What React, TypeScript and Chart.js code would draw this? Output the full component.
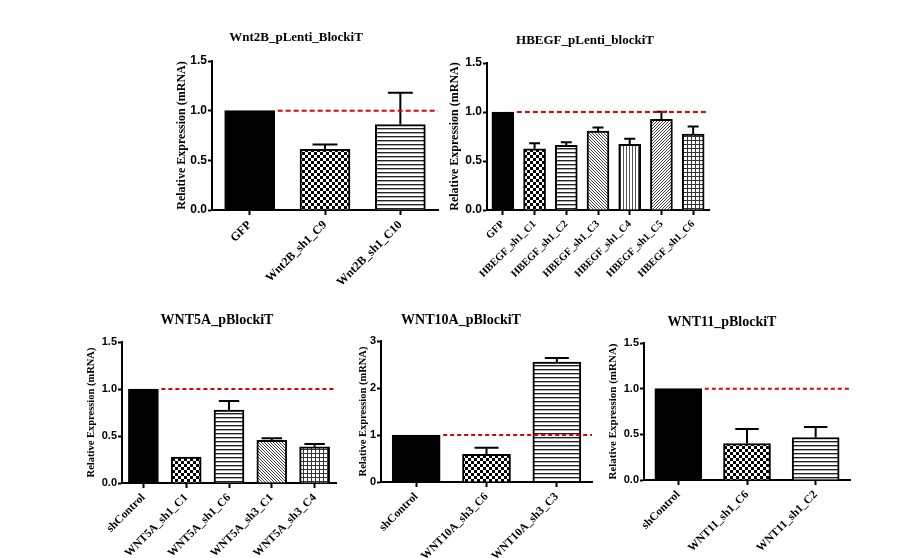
import React, { useEffect, useRef } from "react";
import { Chart, registerables } from "chart.js";

Chart.register(...registerables);

// ---------------- data ----------------
const yAxisTitle = "Relative Expression (mRNA)";
const referenceLevel = 1.0;

const wnt2bTitle = "Wnt2B_pLenti_BlockiT";
const wnt2bLabels = ["GFP", "Wnt2B_sh1_C9", "Wnt2B_sh1_C10"];
const wnt2bMeans = [1.0, 0.61, 0.86];
const wnt2bErrors = [0, 0.05, 0.32];
const wnt2bTicks = [0, 0.5, 1.0, 1.5];

const hbegfTitle = "HBEGF_pLenti_blockiT";
const hbegfLabels = ["GFP", "HBEGF_sh1_C1", "HBEGF_sh1_C2", "HBEGF_sh1_C3", "HBEGF_sh1_C4", "HBEGF_sh1_C5", "HBEGF_sh1_C6"];
const hbegfMeans = [1.0, 0.625, 0.66, 0.805, 0.67, 0.925, 0.775];
const hbegfErrors = [0, 0.055, 0.032, 0.037, 0.056, 0.078, 0.077];
const hbegfTicks = [0, 0.5, 1.0, 1.5];

const wnt5aTitle = "WNT5A_pBlockiT";
const wnt5aLabels = ["shControl", "WNT5A_sh1_C1", "WNT5A_sh1_C6", "WNT5A_sh3_C1", "WNT5A_sh3_C4"];
const wnt5aMeans = [1.0, 0.275, 0.775, 0.455, 0.385];
const wnt5aErrors = [0, 0, 0.098, 0.022, 0.03];
const wnt5aTicks = [0, 0.5, 1.0, 1.5];

const wnt10aTitle = "WNT10A_pBlockiT";
const wnt10aLabels = ["shControl", "WNT10A_sh3_C6", "WNT10A_sh3_C3"];
const wnt10aMeans = [1.0, 0.59, 2.55];
const wnt10aErrors = [0, 0.14, 0.09];
const wnt10aTicks = [0, 1, 2, 3];

const wnt11Title = "WNT11_pBlockiT";
const wnt11Labels = ["shControl", "WNT11_sh1_C6", "WNT11_sh1_C2"];
const wnt11Means = [1.0, 0.4, 0.465];
const wnt11Errors = [0, 0.158, 0.115];
const wnt11Ticks = [0, 0.5, 1.0, 1.5];

// ---------------- styles / layout ----------------
type Box = { left: number; top: number; width: number; height: number };
type Panel = {
  title: string;
  labels: string[];
  means: number[];
  errors: number[];
  ticks: number[];
  decimals: number;
  patterns: string[];
  box: Box;
  yW: number;
  xH: number;
  padTop: number;
  padRight: number;
  titleX: number;
  titleY: number;
  titleSize: number;
  yTitleSize: number;
  yTitlePad: number;
  tickSize: number;
  xLabelSize: number;
  barThickness: number;
  capFrac: number;
  dash: number[];
};

const panels: Panel[] = [
  {
    title: wnt2bTitle, labels: wnt2bLabels, means: wnt2bMeans, errors: wnt2bErrors, ticks: wnt2bTicks, decimals: 1,
    patterns: ["solid", "checker", "hlines"],
    box: { left: 170, top: 20, width: 275, height: 275 }, yW: 42, xH: 85, padTop: 41, padRight: 7,
    titleX: 296, titleY: 38, titleSize: 13, yTitleSize: 12, yTitlePad: 4.8, tickSize: 12, xLabelSize: 12,
    barThickness: 50, capFrac: 0.5, dash: [5, 3],
  },
  {
    title: hbegfTitle, labels: hbegfLabels, means: hbegfMeans, errors: hbegfErrors, ticks: hbegfTicks, decimals: 1,
    patterns: ["solid", "checker", "hlines", "diag", "vlines", "diag2", "grid"],
    box: { left: 443, top: 20, width: 273, height: 275 }, yW: 44, xH: 85, padTop: 43, padRight: 7,
    titleX: 585, titleY: 41, titleSize: 13, yTitleSize: 12, yTitlePad: 4.8, tickSize: 12, xLabelSize: 10.5,
    barThickness: 22, capFrac: 0.5, dash: [5, 3],
  },
  {
    title: wnt5aTitle, labels: wnt5aLabels, means: wnt5aMeans, errors: wnt5aErrors, ticks: wnt5aTicks, decimals: 1,
    patterns: ["solid", "checker", "hlines", "diag", "grid"],
    box: { left: 79, top: 305, width: 264, height: 263 }, yW: 43, xH: 85, padTop: 37, padRight: 7,
    titleX: 217, titleY: 320, titleSize: 14, yTitleSize: 10.5, yTitlePad: 5.7, tickSize: 11, xLabelSize: 11.5,
    barThickness: 30, capFrac: 0.68, dash: [4, 3],
  },
  {
    title: wnt10aTitle, labels: wnt10aLabels, means: wnt10aMeans, errors: wnt10aErrors, ticks: wnt10aTicks, decimals: 0,
    patterns: ["solid", "checker", "hlines"],
    box: { left: 351, top: 305, width: 248, height: 262 }, yW: 30, xH: 85, padTop: 36, padRight: 7,
    titleX: 461, titleY: 320, titleSize: 14, yTitleSize: 10.5, yTitlePad: 5.7, tickSize: 11, xLabelSize: 11.5,
    barThickness: 48, capFrac: 0.5, dash: [4, 3],
  },
  {
    title: wnt11Title, labels: wnt11Labels, means: wnt11Means, errors: wnt11Errors, ticks: wnt11Ticks, decimals: 1,
    patterns: ["solid", "checker", "hlines"],
    box: { left: 601, top: 305, width: 256, height: 260 }, yW: 43, xH: 85, padTop: 38, padRight: 7,
    titleX: 722, titleY: 322, titleSize: 14, yTitleSize: 11, yTitlePad: 5.4, tickSize: 11, xLabelSize: 11.5,
    barThickness: 47, capFrac: 0.5, dash: [4, 3],
  },
];

function makePattern(kind: string): CanvasPattern | string {
  if (kind === "solid") return "#000000";
  const c = document.createElement("canvas");
  let w = 4;
  let h = 4;
  if (kind === "checker") { w = 6; h = 6; }
  if (kind === "hlines") { w = 4; h = 4; }
  if (kind === "vlines") { w = 3; h = 3; }
  if (kind === "diag" || kind === "diag2") { w = 3; h = 3; }
  if (kind === "grid") { w = 4; h = 4; }
  c.width = w;
  c.height = h;
  const ctx = c.getContext("2d")!;
  ctx.fillStyle = "#ffffff";
  ctx.fillRect(0, 0, w, h);
  ctx.fillStyle = "#000000";
  if (kind === "checker") {
    ctx.fillRect(0, 0, 3, 3);
    ctx.fillRect(3, 3, 3, 3);
  } else if (kind === "hlines") {
    ctx.fillStyle = "#222222";
    ctx.fillRect(0, 0, w, 1);
    ctx.fillStyle = "#aaaaaa";
    ctx.fillRect(0, 1, w, 1);
  } else if (kind === "vlines") {
    ctx.fillStyle = "#555555";
    ctx.fillRect(0, 0, 1, h);
  } else if (kind === "diag") {
    ctx.fillStyle = "#444444";
    for (let i = 0; i < 3; i++) ctx.fillRect(i, i, 1, 1);
  } else if (kind === "diag2") {
    ctx.fillStyle = "#444444";
    for (let i = 0; i < 3; i++) ctx.fillRect(i, 2 - i, 1, 1);
  } else if (kind === "grid") {
    ctx.fillStyle = "#333333";
    ctx.fillRect(0, 0, w, 1);
    ctx.fillRect(0, 0, 1, h);
  }
  return ctx.createPattern(c, "repeat") || "#888888";
}

function PanelChart({ p }: { p: Panel }) {
  const ref = useRef<HTMLCanvasElement | null>(null);
  useEffect(() => {
    const canvas = ref.current;
    if (!canvas) return;
    const overlay = {
      id: "overlay",
      afterDatasetsDraw(chart: any) {
        const ctx = chart.ctx as CanvasRenderingContext2D;
        const meta = chart.getDatasetMeta(0);
        const ys = chart.scales.y;
        const area = chart.chartArea;
        ctx.save();
        // error bars (upper only)
        ctx.strokeStyle = "#000000";
        ctx.lineWidth = 2;
        meta.data.forEach((bar: any, i: number) => {
          const e = p.errors[i];
          if (!e) return;
          const top = ys.getPixelForValue(p.means[i] + e);
          const half = (bar.width * p.capFrac) / 2;
          ctx.beginPath();
          ctx.moveTo(bar.x, bar.y);
          ctx.lineTo(bar.x, top);
          ctx.moveTo(bar.x - half, top);
          ctx.lineTo(bar.x + half, top);
          ctx.stroke();
        });
        // reference line
        const first = meta.data[0];
        const yr = ys.getPixelForValue(referenceLevel);
        ctx.strokeStyle = "#e00000";
        ctx.lineWidth = 2;
        ctx.setLineDash(p.dash);
        ctx.beginPath();
        ctx.moveTo(first.x + first.width / 2 + 3, yr);
        ctx.lineTo(area.right, yr);
        ctx.stroke();
        ctx.restore();
      },
      afterDraw(chart: any) {
        const ctx = chart.ctx as CanvasRenderingContext2D;
        ctx.save();
        ctx.fillStyle = "#000000";
        ctx.font = `bold ${p.titleSize}px "Liberation Serif", "Times New Roman", serif`;
        ctx.textAlign = "center";
        ctx.textBaseline = "middle";
        ctx.fillText(p.title, p.titleX - p.box.left, p.titleY - p.box.top);
        ctx.restore();
      },
    };

    const chart = new Chart(canvas, {
      type: "bar",
      data: {
        labels: p.labels,
        datasets: [
          {
            data: p.means,
            backgroundColor: p.patterns.map(makePattern) as any,
            borderColor: "#000000",
            borderWidth: 2,
            barThickness: p.barThickness,
          },
        ],
      },
      options: {
        responsive: false,
        animation: false,
        layout: { padding: { top: p.padTop, right: p.padRight, left: 0, bottom: 0 } },
        plugins: {
          legend: { display: false },
          tooltip: { enabled: false },
          title: { display: false },
        },
        scales: {
          x: {
            type: "category",
            offset: true,
            grid: {
              display: true,
              drawOnChartArea: false,
              drawTicks: true,
              tickLength: 5,
              tickColor: "#000000",
              tickWidth: 2,
              offset: false,
            },
            border: { display: true, color: "#000000", width: 2 },
            ticks: {
              color: "#000000",
              autoSkip: false,
              minRotation: 45,
              maxRotation: 45,
              padding: 3,
              font: { family: '"Liberation Serif", "Times New Roman", serif', weight: "bold", size: p.xLabelSize },
            },
            afterFit: (s: any) => {
              s.height = p.xH;
            },
          },
          y: {
            type: "linear",
            min: p.ticks[0],
            max: p.ticks[p.ticks.length - 1],
            grid: {
              display: true,
              drawOnChartArea: false,
              drawTicks: true,
              tickLength: 4,
              tickColor: "#000000",
              tickWidth: 2,
            },
            border: { display: true, color: "#000000", width: 2 },
            afterBuildTicks: (s: any) => {
              s.ticks = p.ticks.map((v) => ({ value: v }));
            },
            ticks: {
              color: "#000000",
              padding: 1,
              font: { family: '"Liberation Sans", Arial, sans-serif', weight: "bold", size: p.tickSize },
              callback: (v: any) => Number(v).toFixed(p.decimals),
            },
            title: {
              display: true,
              text: yAxisTitle,
              color: "#000000",
              font: { family: '"Liberation Serif", "Times New Roman", serif', weight: "bold", size: p.yTitleSize },
              padding: { top: p.yTitlePad, bottom: 0 },
            },
            afterFit: (s: any) => {
              s.width = p.yW;
            },
          },
        },
      } as any,
      plugins: [overlay],
    });
    return () => chart.destroy();
  }, [p]);

  return (
    <canvas
      ref={ref}
      width={p.box.width}
      height={p.box.height}
      style={{
        position: "absolute",
        left: p.box.left,
        top: p.box.top,
        width: p.box.width,
        height: p.box.height,
        display: "block",
      }}
    />
  );
}

export default function App() {
  return (
    <div
      style={{
        position: "fixed",
        left: 0,
        top: 0,
        width: 901,
        height: 558,
        overflow: "hidden",
        background: "#ffffff",
      }}
    >
      {panels.map((p) => (
        <PanelChart key={p.title} p={p} />
      ))}
    </div>
  );
}
